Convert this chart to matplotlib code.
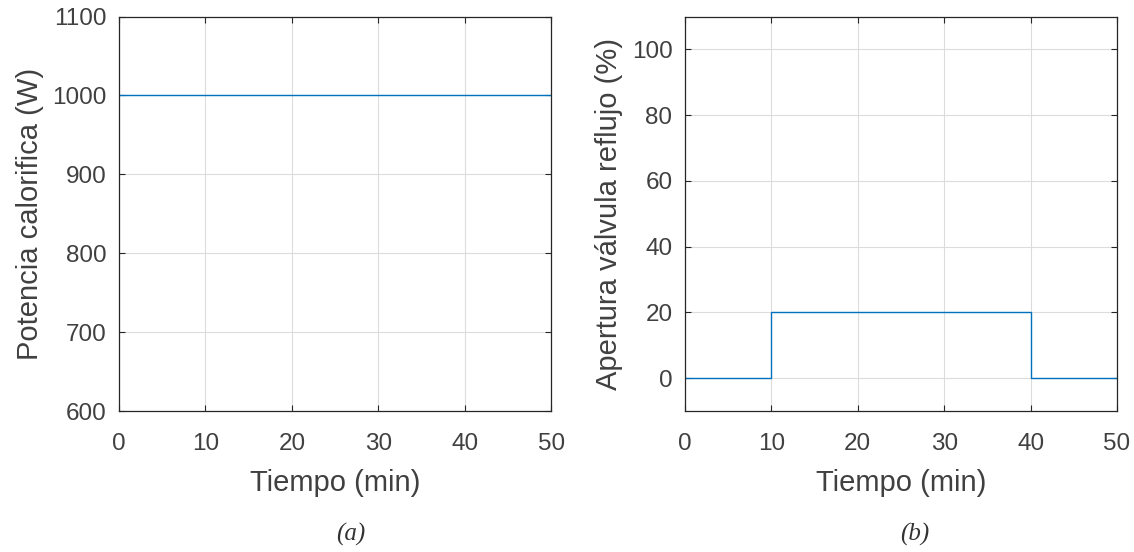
import numpy as np
import matplotlib.pyplot as plt

plt.rcParams['font.family'] = ['Liberation Sans', 'DejaVu Sans']

# datos
t_pot = [0, 50]
potencia = [1000, 1000]

t_val = [0, 10, 10, 40, 40, 50]
apertura = [0, 0, 20, 20, 0, 0]

gris = '#404040'
azul = '#0072BD'

fig = plt.figure(figsize=(11.34, 5.52), dpi=100)
ax1 = fig.add_axes([0.105, 0.2554, 0.381, 0.7147])
ax2 = fig.add_axes([0.604, 0.2554, 0.381, 0.7147])

def estilo(ax):
    ax.grid(True, color='#dcdcdc', lw=0.8)
    ax.set_axisbelow(True)
    ax.tick_params(direction='in', top=True, right=True, labelsize=17.5,
                   colors='#262626', labelcolor=gris, length=4)
    ax.tick_params(axis='x', pad=16)
    ax.tick_params(axis='y', pad=9)
    for s in ax.spines.values():
        s.set_color('#262626')
        s.set_linewidth(0.9)
    ax.set_xlim(0, 50)
    ax.set_xticks([0, 10, 20, 30, 40, 50])
    ax.set_xlabel('Tiempo (min)', fontsize=21, color=gris, labelpad=10)

ax1.plot(t_pot, potencia, color=azul, lw=1)
estilo(ax1)
ax1.set_ylim(600, 1100)
ax1.set_yticks(np.arange(600, 1101, 100))
ax1.set_ylabel('Potencia calorifica (W)', fontsize=21, color=gris, labelpad=6)

ax2.plot(t_val, apertura, color=azul, lw=1)
estilo(ax2)
ax2.set_ylim(-10, 110)
ax2.set_yticks([0, 20, 40, 60, 80, 100])
ax2.set_ylabel('Apertura válvula reflujo (%)', fontsize=21, color=gris, labelpad=6)

fig.text(0.309, 0.031, '(a)', family='Liberation Serif', style='italic',
         fontsize=18, color='#333333', ha='center', va='center')
fig.text(0.807, 0.031, '(b)', family='Liberation Serif', style='italic',
         fontsize=18, color='#333333', ha='center', va='center')

fig.savefig('out.png', dpi=100)
